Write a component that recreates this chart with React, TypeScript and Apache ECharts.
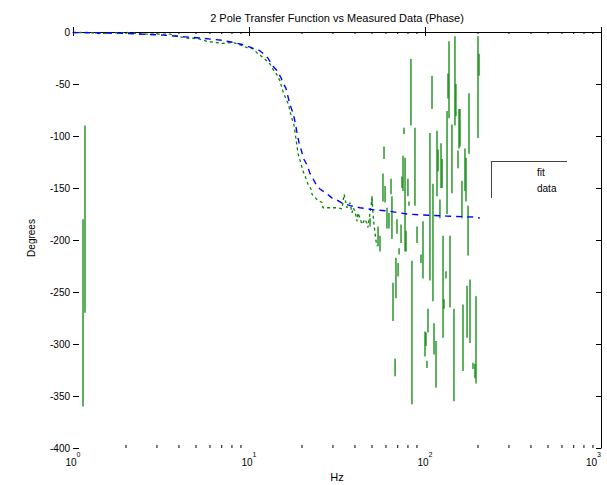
import React, { useEffect, useRef } from "react";
import * as echarts from "echarts";

// Fit curve (blue dashed): frequency in Hz, phase in degrees
const fitHz = [1.0, 1.42, 1.92, 2.4, 3.25, 4.62, 5.48, 6.16, 7.03, 8.11, 9.12, 9.74, 10.5, 11.4, 11.9, 12.8, 13.7, 14.4, 15.2, 15.6, 16.2, 16.7, 17.1, 17.8, 18.3, 18.7, 19.2, 20.0, 20.3, 21.4, 22.2, 23.1, 24.3, 25.3, 27.7, 29.6, 31.6, 33.8, 37.5, 42.7, 46.8, 51.3, 60.8, 79.0, 97.4, 133, 192, 205];
const fitDeg = [-0.5, -0.8, -1.2, -2, -3, -5, -6, -7, -8, -10, -12, -13.5, -15.5, -17.5, -20, -25, -33, -37, -44, -49, -54, -63, -70, -78, -87, -96, -106, -116, -121, -128, -136, -141, -148, -151, -155.5, -159.5, -161.5, -164.5, -167, -169, -170, -171, -172, -175, -176, -177, -178, -179];

// Measured data, smooth low-frequency part (green)
const dataHz = [1.0, 1.25, 1.39, 2.03, 2.47, 3.12, 3.56, 4.16, 4.5, 5.07, 5.77, 7.11, 8.11, 9.12, 9.74, 10.5, 11.1, 11.9, 12.7, 13.2, 13.7, 14.4, 15.0, 15.4, 15.8, 16.7, 17.1, 17.5, 18.0, 18.5, 19.0, 19.7, 20.3, 21.1, 21.6, 22.5, 22.8, 24.3, 26.0, 26.3, 28.1, 30.0, 32.0, 33.8, 34.7, 36.0, 37.5, 38.5, 39.0, 40.0, 41.1, 41.6, 42.7, 43.9, 45.6, 46.8, 47.4, 50.0, 50.7, 51.3, 52.7, 53.4];
const dataDeg = [-0.5, -0.5, -1.5, -0.5, -2, -2, -2, -5, -6, -6, -9, -11, -10, -13, -15, -16, -20, -24, -28, -31, -36, -41, -47, -54, -60, -69, -76, -83, -89, -103, -117, -126, -134, -141, -146, -151, -156, -161, -164, -169, -169, -169, -169, -170, -156, -169, -164, -174, -169, -172, -182, -174, -179, -185, -180, -184, -188, -160, -175, -185, -201, -206];

// Measured data, noisy jumps (vertical strokes): Hz, top deg, bottom deg
const spikeHz = [1.14, 1.17, 48.7, 50.0, 54.1, 55.5, 57.7, 58.5, 59.3, 60.8, 62.4, 64.1, 64.9, 65.8, 67.6, 68.4, 69.3, 70.3, 71.2, 73.1, 74.0, 75.0, 76.0, 77.0, 78.0, 80.0, 81.1, 83.2, 84.3, 87.7, 90.1, 94.9, 97.4, 100, 101.3, 102.6, 104, 106.7, 109.6, 111, 112.5, 115.5, 117.0, 118.6, 121.6, 123.3, 125, 126.6, 128.3, 131.6, 133.4, 135.1, 136.9, 138.7, 142.3, 146.1, 148.0, 149.9, 154.0, 156.0, 158.1, 162.2, 164.4, 168.7, 171.0, 173.3, 175.6, 177.8, 180.2, 187.4, 192.3, 194.9, 200, 202.7];
const spikeTop = [-180, -90, -179, -158, -187, -196, -136, -110, -148, -169, -174, -141, -158, -241, -314, -217, -180, -222, -208, -185, -139, -119, -92, -121, -191, -141, -163, -26, -220, -92, -187, -214, -182, -288, -289, -316, -266, -97, -42, -146, -280, -297, -95, -113, -161, -107, -122, -196, -257, -230, -76, -40, -9, -196, -89, -266, -4, -50, -114, -74, -74, -143, -262, -112, -121, -244, -167, -59, -238, -318, -319, -254, -4, -21];
const spikeBottom = [-360, -270, -187, -165, -206, -211, -163, -122, -164, -189, -189, -156, -199, -278, -331, -256, -194, -235, -214, -203, -150, -153, -98, -211, -211, -158, -167, -90, -358, -167, -203, -222, -237, -312, -302, -323, -289, -239, -74, -259, -310, -342, -158, -134, -179, -150, -150, -294, -266, -237, -175, -64, -83, -265, -155, -355, -90, -81, -131, -112, -110, -179, -326, -153, -163, -294, -215, -117, -299, -324, -333, -338, -102, -42];

// Log-axis minor tick positions (Hz)
const minorTickHz = [2, 3, 4, 5, 6, 7, 8, 9, 20, 30, 40, 50, 60, 70, 80, 90, 200, 300, 400, 500, 600, 700, 800, 900];

const GREEN = "#0a870a";
const BLUE = "#0000ff";
const FONT = "Liberation Sans, Arial, Helvetica, sans-serif";

export default function App() {
  const ref = useRef<HTMLDivElement>(null);

  useEffect(() => {
    if (!ref.current) return;
    const chart = echarts.init(ref.current, undefined, { renderer: "svg" });

    const fitData = fitHz.map((h, i) => [h, fitDeg[i]]);
    const smoothData = dataHz.map((h, i) => [h, dataDeg[i]]);
    const spikeData = spikeHz.map((h, i) => [h, spikeTop[i], spikeBottom[i]]);
    const tickData = minorTickHz.map((h) => [h, -400]);

    const axisText = { color: "#000", fontFamily: FONT, fontSize: 10 };

    chart.setOption({
      animation: false,
      backgroundColor: "#fff",
      grid: { left: 73, right: 6, top: 32, bottom: 37, containLabel: false, outerBoundsMode: "none" },
      xAxis: [
        {
          type: "log",
          logBase: 10,
          min: 1,
          max: 1000,
          position: "bottom",
          axisLine: { show: true, lineStyle: { color: "#000", width: 1 } },
          axisTick: { show: true, inside: true, length: 5, lineStyle: { color: "#000" } },
          splitLine: { show: false },
          axisLabel: {
            show: true,
            margin: 3,
            showMinLabel: true,
            showMaxLabel: true,
            alignMaxLabel: "right",
            formatter: (v: number) => `{b|10}{s|${Math.round(Math.log10(v))}}`,
            rich: {
              b: { ...axisText, fontSize: 10, lineHeight: 16, verticalAlign: "bottom" },
              s: { ...axisText, fontSize: 7, lineHeight: 16, verticalAlign: "top" },
            },
          },
        },
        {
          type: "log",
          logBase: 10,
          min: 1,
          max: 1000,
          position: "top",
          axisLine: { show: false },
          axisTick: { show: true, inside: true, length: 4, lineStyle: { color: "#000" } },
          axisLabel: { show: false },
          splitLine: { show: false },
        },
      ],
      yAxis: [
        {
          type: "value",
          min: -400,
          max: 0,
          interval: 50,
          position: "left",
          axisLine: { show: false },
          axisTick: { show: true, inside: true, length: 6, lineStyle: { color: "#000" } },
          axisLabel: { ...axisText, margin: 3 },
          splitLine: { show: false },
        },
        {
          type: "value",
          min: -400,
          max: 0,
          interval: 50,
          position: "right",
          axisLine: { show: true, lineStyle: { color: "#000", width: 1 } },
          axisTick: { show: true, inside: true, length: 5, lineStyle: { color: "#000" } },
          axisLabel: { show: false },
          splitLine: { show: false },
        },
      ],
      series: [
        {
          type: "custom",
          name: "minorTicks",
          silent: true,
          clip: false,
          encode: { x: 0, y: 1 },
          data: tickData,
          renderItem: (params: any, api: any) => {
            const v = api.value(0);
            const b = api.coord([v, -400]);
            const t = api.coord([v, 0]);
            return {
              type: "group",
              children: [
                { type: "line", shape: { x1: b[0], y1: b[1], x2: b[0], y2: b[1] - 3 }, style: { stroke: "#000", lineWidth: 1 } },
                { type: "line", shape: { x1: t[0], y1: t[1], x2: t[0], y2: t[1] + 2 }, style: { stroke: "#000", lineWidth: 1 } },
              ],
            };
          },
        },
        {
          type: "line",
          name: "data",
          data: smoothData,
          showSymbol: false,
          symbol: "none",
          lineStyle: { color: GREEN, width: 1.3, type: [3, 3] },
          z: 2,
        },
        {
          type: "custom",
          name: "dataSpikes",
          encode: { x: 0, y: [1, 2] },
          data: spikeData,
          clip: true,
          renderItem: (params: any, api: any) => {
            const x = api.value(0);
            const a = api.coord([x, api.value(1)]);
            const b = api.coord([x, api.value(2)]);
            return {
              type: "line",
              shape: { x1: a[0], y1: a[1], x2: b[0], y2: b[1] },
              style: { stroke: GREEN, lineWidth: 1.3 },
            };
          },
          z: 2,
        },
        {
          type: "line",
          name: "fit",
          data: fitData,
          showSymbol: false,
          symbol: "none",
          lineStyle: { color: BLUE, width: 1.4, type: [6, 5] },
          z: 3,
        },
      ],
      graphic: [
        {
          type: "text",
          x: 337,
          y: 18,
          style: {
            text: "2 Pole Transfer Function vs Measured Data (Phase)",
            fill: "#000",
            font: `11px ${FONT}`,
            align: "center",
            verticalAlign: "middle",
          },
        },
        {
          type: "text",
          x: 31,
          y: 238,
          rotation: Math.PI / 2,
          style: {
            text: "Degrees",
            fill: "#000",
            font: `10px ${FONT}`,
            align: "center",
            verticalAlign: "middle",
          },
        },
        {
          type: "text",
          x: 337,
          y: 477,
          style: {
            text: "Hz",
            fill: "#000",
            font: `11px ${FONT}`,
            align: "center",
            verticalAlign: "middle",
          },
        },
        {
          type: "line",
          shape: { x1: 491, y1: 161.5, x2: 567, y2: 161.5 },
          style: { stroke: "#444", lineWidth: 1 },
        },
        {
          type: "line",
          shape: { x1: 491.5, y1: 161, x2: 491.5, y2: 198 },
          style: { stroke: "#444", lineWidth: 1 },
        },
        {
          type: "text",
          x: 537,
          y: 172,
          style: { text: "fit", fill: "#000", font: `10px ${FONT}`, align: "left", verticalAlign: "middle" },
        },
        {
          type: "text",
          x: 537,
          y: 188,
          style: { text: "data", fill: "#000", font: `10px ${FONT}`, align: "left", verticalAlign: "middle" },
        },
      ],
    });

    return () => chart.dispose();
  }, []);

  return (
    <div
      ref={ref}
      style={{ position: "absolute", left: 0, top: 0, width: 607, height: 485, background: "#fff" }}
    />
  );
}
